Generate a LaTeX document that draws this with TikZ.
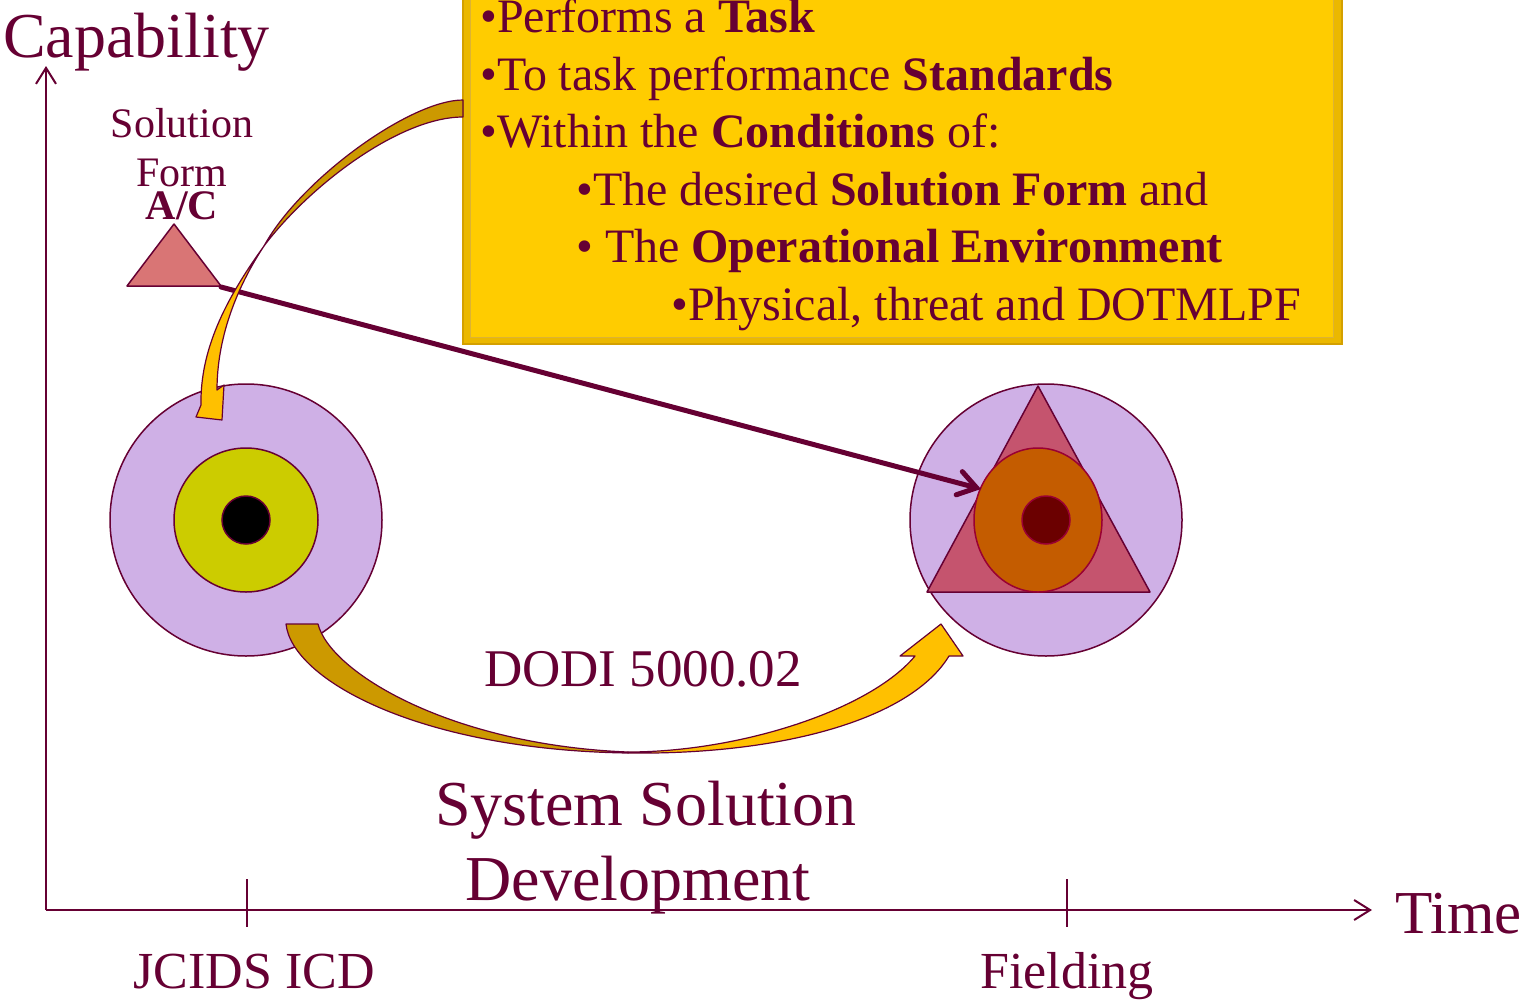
\documentclass[tikz,border=0pt]{standalone}
\usepackage{fontspec}
\setmainfont{Liberation Serif}
\usetikzlibrary{arrows.meta,shapes.geometric}
\definecolor{mar}{HTML}{660033}
\definecolor{lav}{HTML}{CFB0E6}
\definecolor{ygreen}{HTML}{CCCC00}
\definecolor{salmon}{HTML}{D97575}
\definecolor{rose}{HTML}{C5546E}
\definecolor{burnt}{HTML}{C45C00}
\definecolor{dkred}{HTML}{6B0000}
\definecolor{redline}{HTML}{990033}
\definecolor{gold}{HTML}{FFCC00}
\definecolor{dgold}{HTML}{CC9900}
\definecolor{ylw}{HTML}{FFC000}
\definecolor{bevelA}{HTML}{D4A000}
\definecolor{bevelB}{HTML}{EBB800}
\newcommand\fsz[1]{\fontsize{#1}{#1}\selectfont}
\tikzset{
  lbl/.style={inner sep=0pt, text=mar},
  axis/.style={draw=mar, line width=2pt, -{Straight Barb[length=16pt,width=20pt]}},
  tick/.style={draw=mar, line width=1.5pt},
  ring/.style={circle, draw=mar, line width=1.5pt, inner sep=0pt},
  ribbon/.style={draw=mar, line width=1.2pt, line join=round},
  boxline/.style={lbl, anchor=base west, font=\fsz{48}},
}
\begin{document}
\begin{tikzpicture}[x=1pt,y=-1pt]
\path[use as bounding box] (0,0) rectangle (1528,1001);
\clip (0,0) rectangle (1528,1001);
\fill[white] (0,0) rectangle (1528,1001);

% yellow box
\node[draw=bevelA, fill=bevelB, line width=2pt, minimum width=879pt, minimum height=375pt, anchor=south west, inner sep=0pt] (box) at (462,345) {};
\fill[gold] (470,-30) rectangle (1333,337);
\draw[bevelA!80, line width=0.8pt] (470,-30) rectangle (1333,337);

\node[boxline] (t1) at (480,32) {•Performs a \textbf{Task}};
\node[boxline] (t2) at (480,90) {•To task performance \textbf{Standards}};
\node[boxline] (t3) at (480,147) {•Within the \textbf{Conditions} of:};
\node[boxline] (t4) at (576,205) {•The desired \textbf{Solution Form} and};
\node[boxline] (t5) at (576,262) {• The \textbf{Operational Environment}};
\node[boxline] (t6) at (671,320) {•Physical, threat and DOTMLPF};

% axes
\coordinate (O) at (46,910);
\coordinate (ytop) at (46,66);
\coordinate (xend) at (1372,910);
\draw[axis] (O) -- (ytop);
\draw[axis] (O) -- (xend);
\coordinate (k1a) at (247,879); \coordinate (k1b) at (247,927);
\coordinate (k2a) at (1067,879); \coordinate (k2b) at (1067,927);
\draw[tick] (k1a) -- (k1b);
\draw[tick] (k2a) -- (k2b);

% left circles
\node[ring, fill=lav, minimum size=272pt] (L) at (246,520) {};
\node[ring, fill=ygreen, minimum size=144pt] (Lm) at (246,520) {};
\node[ring, fill=black, minimum size=48pt] (Lc) at (246,520) {};

% right circles
\node[ring, fill=lav, minimum size=272pt] (R) at (1046,520) {};
\filldraw[fill=rose, draw=mar, line width=1.5pt, line join=round] (927,592) -- (1150,592) -- (1038,386) -- cycle;
\node[ellipse, draw=redline, line width=1.5pt, fill=burnt, minimum width=128pt, minimum height=144pt, inner sep=0pt] (Re) at (1038,520) {};
\node[circle, draw=redline, line width=1.5pt, fill=dkred, minimum size=48pt, inner sep=0pt] (Rc) at (1046,520) {};

% small triangle
\filldraw[fill=salmon, draw=mar, line width=1.5pt, line join=round] (127,286) -- (221,286) -- (174,224) -- cycle;
\coordinate (tri) at (221,287);
\coordinate (hit) at (981,489);
\draw[draw=mar, line width=5pt, line cap=round, -{Straight Barb[length=18pt,width=24pt,line cap=round]}] (tri) -- (hit);

% top curved ribbon arrow (box -> left circle)
\filldraw[ribbon, fill=dgold] (463,100) .. controls (410,100) and (300,180) .. (264,246)
  .. controls (310,185) and (400,117) .. (463,117) -- cycle;
\filldraw[ribbon, fill=ylw] (264,246) .. controls (225,300) and (200,350) .. (201,405)
  -- (196,417) -- (222,420) -- (224,385) -- (217,390)
  .. controls (217,340) and (235,290) .. (264,246) -- cycle;

% bottom curved ribbon arrow (left circle -> right circle)
\filldraw[ribbon, fill=dgold] (286,624) -- (318,624) .. controls (330,672) and (450,745) .. (628,752)
  -- (628,753) .. controls (420,750) and (292,680) .. (286,624) -- cycle;
\filldraw[ribbon, fill=ylw] (628,752) .. controls (740,752) and (870,710) .. (915,656)
  -- (900,656) -- (941,624) -- (963,656) -- (949,656)
  .. controls (910,720) and (780,755) .. (628,753) -- cycle;

% labels
\node[lbl, anchor=base west, font=\fsz{64}] (cap) at (3,57) {Capability};
\node[lbl, anchor=base west, font=\fsz{61}] (time) at (1395,933) {Time};
\node[lbl, anchor=base, font=\fsz{52}] (jc) at (254,988) {JCIDS ICD};
\node[lbl, anchor=base, font=\fsz{52}] (fi) at (1067,988) {Fielding};
\node[lbl, anchor=base, font=\fsz{64}] (ss) at (646,825) {System Solution};
\node[lbl, anchor=base, font=\fsz{64}] (dev) at (638,900) {Development};
\node[lbl, anchor=base, font=\fsz{53}] (dodi) at (643,686) {DODI 5000.02};
\node[lbl, anchor=base, font=\fsz{42}] (sol) at (182,137) {Solution};
\node[lbl, anchor=base, font=\fsz{42}] (form) at (182,186) {Form};
\node[lbl, anchor=base, font=\bfseries\fsz{42}] (ac) at (182,219) {A/C};
\end{tikzpicture}
\end{document}
